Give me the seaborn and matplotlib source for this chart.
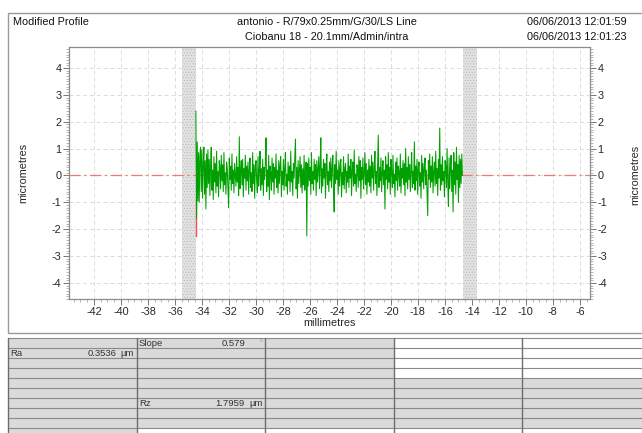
import numpy as np
import pandas as pd
import matplotlib
matplotlib.use("Agg")
import matplotlib.pyplot as plt
from matplotlib.patches import Rectangle
import seaborn as sns

# --- data ---
X_START = -34.45
X_END = -14.70
PROFILE = [
    2.40, -1.60, 1.25, -0.95, 0.85, -1.00, 0.70, 1.05, -0.60, 0.95, -0.85, 0.40, 1.05, -0.70, 0.55, -1.25, 0.80, -0.45, 0.95, -0.30,
    0.60, -0.75, 0.35, 1.05, -0.55, 0.20, -0.90, 0.70, -0.25, 0.45, -0.65, 0.90, -0.40, 0.15, -0.80, 0.55, 0.30, -0.50, 0.75, -0.20,
    0.40, -0.60, 0.85, -0.35, 0.10, -0.70, 0.50, 0.25, -0.45, -1.20, 0.65, -0.15, 0.35, -0.55, 0.80, -0.30, 0.20, -0.65, 0.45, 0.05,
    -0.40, 0.70, -0.25, 0.30, -0.75, 1.44, -0.50, 0.15, 0.55, -0.35, 0.60, -0.80, 0.25, -0.10, 0.75, -0.55, 0.35, -0.20, 0.50, -0.70,
    0.20, 0.65, -0.45, 0.10, -0.60, 0.85, -0.30, 0.40, -0.85, 0.30, 0.55, -0.20, -0.65, 0.70, -0.40, 0.15, 0.90, -0.55, 0.25, -0.35,
    0.60, -0.75, 0.30, -0.15, 0.50, 1.40, -0.60, 0.20, -0.40, 0.75, -0.90, 0.35, 0.10, -0.55, 0.65, -0.25, 0.45, -0.70, 0.30, -0.10,
    0.80, -0.45, 0.20, -0.65, 0.55, -0.30, 0.40, 0.70, -0.80, 0.15, -0.35, 0.60, -0.55, 0.25, 0.85, -0.40, 0.05, -0.70, 0.50, -0.20,
    0.35, -0.60, 0.90, -0.25, 0.15, -0.75, 0.45, -0.10, 0.60, 1.35, -0.50, 0.30, -0.85, 0.55, -0.30, 0.20, 0.70, -0.45, 0.40, -0.65,
    0.25, -0.35, 0.75, -0.55, 0.10, 0.50, -2.25, 0.45, -0.40, 0.65, -0.20, 0.30, -0.70, 0.85, -0.30, 0.15, -0.55, 0.60, -0.15, 0.40,
    -0.75, 0.55, -0.25, 0.20, 0.70, -0.50, 0.35, 1.40, -0.65, 0.25, -0.40, 0.60, -0.10, 0.45, -0.85, 0.30, 0.80, -0.35, 0.15, -0.60,
    0.50, -0.20, 0.65, -0.45, 0.30, 0.75, -0.55, -1.36, 0.40, -0.30, 0.90, -0.15, 0.20, -0.70, 0.55, -0.40, 0.35, 0.60, -0.80, 0.10,
    -0.35, 0.70, -0.50, 0.25, 0.45, -0.65, 0.15, -0.25, 0.80, -0.45, 0.35, -0.10, 0.60, -0.75, 0.20, 0.50, -0.40, 0.95, -0.30, 0.05,
    -0.60, 0.40, 0.25, -0.45, 0.70, -0.20, 0.55, -0.85, 0.30, -0.15, 0.65, -0.50, 0.10, 0.85, -0.35, 0.45, -0.70, 0.20, -0.25, 0.60,
    -0.40, 0.35, -0.65, 0.75, -0.10, 0.50, -0.55, 0.25, 0.90, -0.30, 0.15, -0.75, 0.45, 1.50, -0.45, 0.30, -0.20, 0.65, -0.60, 0.10,
    0.55, -0.35, 0.20, -1.25, 0.70, -0.15, 0.40, -0.50, 0.85, -0.25, 0.30, -0.70, 0.60, 0.15, -0.45, 0.75, -0.30, 0.05, -0.80, 0.50,
    -0.20, 0.65, -0.55, 0.35, 0.10, -0.40, 0.80, -0.65, 0.25, -0.10, 0.55, -0.35, 0.45, -0.75, 1.00, -0.25, 0.30, -0.50, 0.70, -0.15,
    0.40, -0.60, 0.20, 0.85, -0.45, 0.15, -0.30, 1.25, -0.55, 0.35, -0.20, 0.60, -0.70, 0.25, 0.50, -0.40, 0.10, -0.85, 0.75, -0.25,
    0.45, -0.50, 0.30, 0.65, -0.35, 0.20, -0.60, -1.50, 0.55, -0.15, 0.80, -0.45, 0.35, -0.25, 0.70, -0.65, 0.15, 0.50, -0.40, 0.90,
    -0.30, 0.25, -0.75, 0.60, -0.10, 1.76, -0.55, 0.40, -0.35, 0.70, -0.20, 0.15, -0.80, 0.55, 0.35, -0.45, 1.00, -0.25, -1.15, 0.65,
    -0.50, 0.30, 0.75, -0.60, 0.20, -1.36, 0.85, -0.35, 0.50, -0.70, 1.05, -0.15, 0.40, -1.00, 0.75, -0.45, 0.60, -0.30, 0.80, 0.00,
]
RED_SEG = [-0.90, -2.25]          # excluded start segment
BANDS = [(-35.48, -34.45), (-14.67, -13.63)]
X_TICKS = list(range(-42, -5, 2))
Y_TICKS = list(range(-4, 5))

TITLE_LEFT = "Modified Profile"
TITLE_MID = ["antonio - R/79x0.25mm/G/30/LS Line", "Ciobanu 18 - 20.1mm/Admin/intra"]
TITLE_RIGHT = ["06/06/2013 12:01:59", "06/06/2013 12:01:23"]

# table cells: (row, col, name, value, unit)
TABLE_TEXT = [
    (0, 1, "Slope", "0.579", "\u00b0"),
    (1, 0, "Ra", "0.3536", "\u00b5m"),
    (6, 1, "Rz", "1.7959", "\u00b5m"),
]

sns.set_style("white")
plt.rcParams["font.family"] = ["Liberation Sans", "DejaVu Sans"]
plt.rcParams["hatch.linewidth"] = 0.4
plt.rcParams["axes.unicode_minus"] = False

W, H = 642, 433
fig = plt.figure(figsize=(W / 100, H / 100), dpi=100)

# outer frame + header (pixel coords overlay)
bg = fig.add_axes([0, 0, 1, 1])
bg.set_xlim(0, W)
bg.set_ylim(H, 0)
bg.axis("off")
bg.add_patch(Rectangle((8, 13), 700, 320, fill=False, ec="#9a9a9a", lw=1))
bg.text(13, 22, TITLE_LEFT, fontsize=7.8, va="center", ha="left", color="#111")
bg.text(327, 22, TITLE_MID[0], fontsize=7.8, va="center", ha="center", color="#111")
bg.text(327, 37, TITLE_MID[1], fontsize=7.8, va="center", ha="center", color="#111")
bg.text(527, 22, TITLE_RIGHT[0], fontsize=7.8, va="center", ha="left", color="#111")
bg.text(527, 37, TITLE_RIGHT[1], fontsize=7.8, va="center", ha="left", color="#111")

# table
cols = [8, 137, 265, 394, 522, 651]
rows = [338 + 10 * i for i in range(11)]
for r in range(10):
    for c in range(5):
        white = (c in (3, 4) and r < 4) or (r == 9 and c > 0)
        bg.add_patch(Rectangle((cols[c], rows[r]), cols[c + 1] - cols[c], 10,
                               fc="white" if white else "#dadada", ec="none"))
for y in rows[:-1]:
    bg.plot([8, W], [y, y], color="#8a8a8a", lw=0.8)
for x in cols[:-1]:
    bg.plot([x, x], [338, H], color="#6e6e6e", lw=1.0)
for r, c, name, val, unit in TABLE_TEXT:
    y0 = rows[r] + 5
    x0 = cols[c]
    bg.text(x0 + 2, y0, name, fontsize=6.8, va="center", ha="left", color="#333")
    bg.text(x0 + 108, y0, val, fontsize=6.8, va="center", ha="right", color="#333")
    if unit == "\u00b0":
        bg.text(x0 + 123, y0 + 1, unit, fontsize=5, va="center", ha="left", color="#888")
    else:
        bg.text(x0 + 112, y0, unit, fontsize=6.8, va="center", ha="left", color="#333")

# profile axes
ax = fig.add_axes([69 / W, 1 - 299 / H, (590 - 69) / W, (299 - 47) / H])
x = np.linspace(X_START, X_END, len(PROFILE))
df = pd.DataFrame({"mm": x, "um": PROFILE})

for b0, b1 in BANDS:
    ax.axvspan(b0, b1, facecolor="#e2e2e2", hatch="......", edgecolor="#b5b5b5",
               lw=0, zorder=1)
ax.axhline(0, color="#f07878", lw=0.9, dashes=(9, 3, 1.5, 3), zorder=2)
ax.plot([X_START, X_START], RED_SEG, color="#f05050", lw=1.0, zorder=3)
sns.lineplot(data=df, x="mm", y="um", ax=ax, color="#00a000", lw=0.75,
             estimator=None, sort=False, zorder=4)

ax.set_xlim(-43.85, -5.25)
ax.set_ylim(-4.6, 4.78)
ax.set_xticks(X_TICKS)
ax.set_yticks(Y_TICKS)
ax.set_xticks(np.arange(-43.5, -5.2, 0.5), minor=True)
ax.set_yticks(np.arange(-4.6, 4.8, 0.1), minor=True)
ax.grid(True, which="major", color="#dcdcdc", lw=0.7, dashes=(4, 3))
ax.set_xlabel("millimetres", fontsize=7.8, labelpad=1)
ax.set_ylabel("micrometres", fontsize=7.8, labelpad=17)
ax.tick_params(axis="both", which="major", labelsize=7.8, length=4, width=0.7,
               color="#777", direction="out", pad=1.5)
ax.tick_params(axis="both", which="minor", length=2, width=0.5, color="#999",
               direction="out")
ax.tick_params(axis="y", which="both", left=True, right=True, labelright=True)
ax.tick_params(axis="x", which="both", bottom=True)
for s in ax.spines.values():
    s.set_color("#8c8c8c")
    s.set_linewidth(0.9)

# right-hand unit label near the image edge
fig.text(630 / W, 1 - 175 / H, "micrometres", rotation=90, fontsize=7.8,
         ha="left", va="center")

fig.savefig("out.png", dpi=100)
